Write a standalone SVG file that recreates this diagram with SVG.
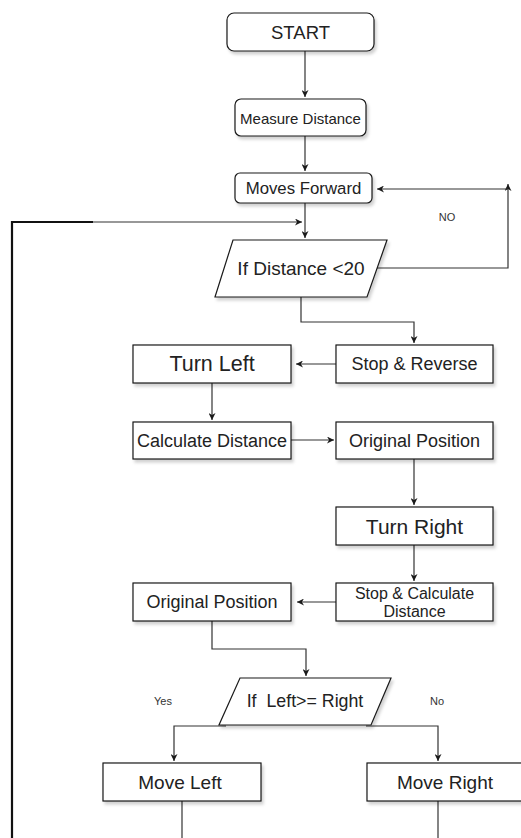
<svg xmlns="http://www.w3.org/2000/svg" width="521" height="838" viewBox="0 0 521 838">
<defs>
<filter id="sh" x="-10%" y="-10%" width="130%" height="140%">
<feDropShadow dx="2" dy="3" stdDeviation="1.5" flood-color="#000" flood-opacity="0.18"/>
</filter>
<marker id="ah" viewBox="0 0 10 10" refX="10" refY="5" markerWidth="7" markerHeight="7" markerUnits="userSpaceOnUse" orient="auto">
<path d="M0,0 L10,5 L0,10 L3,5 Z" fill="#1a1a1a"/>
</marker>
</defs>
<style>
.box{fill:#fff;stroke:#1a1a1a;stroke-width:1.2;filter:url(#sh)}
.t{font-family:"Liberation Sans",Arial,sans-serif;fill:#222;text-anchor:middle;dominant-baseline:central}
.c{fill:none;stroke:#333;stroke-width:1.2}
.lbl{font-family:"Liberation Sans",Arial,sans-serif;fill:#333;font-size:11px;text-anchor:middle;dominant-baseline:central}
</style>
<rect width="521" height="838" fill="#fff"/>
<g id="connectors">
<path class="c" d="M305,51 V97" marker-end="url(#ah)"/>
<path class="c" d="M305,136 V171" marker-end="url(#ah)"/>
<path class="c" d="M305,203 V238" marker-end="url(#ah)"/>
<path d="M12,838 V222 H93" fill="none" stroke="#111" stroke-width="2.2"/>
<path class="c" d="M93,222 H302" marker-end="url(#ah)"/>
<path class="c" d="M376,268 H508 V184" marker-end="url(#ah)"/>
<path class="c" d="M508,189 H377" marker-end="url(#ah)"/>
<path class="c" d="M301,297 V322 H414 V343" marker-end="url(#ah)"/>
<path class="c" d="M336,364 H296" marker-end="url(#ah)"/>
<path class="c" d="M212,383 V420" marker-end="url(#ah)"/>
<path class="c" d="M291,440 H334" marker-end="url(#ah)"/>
<path class="c" d="M414,459 V505" marker-end="url(#ah)"/>
<path class="c" d="M414,545 V581" marker-end="url(#ah)"/>
<path class="c" d="M336,602 H297" marker-end="url(#ah)"/>
<path class="c" d="M212,621 V649 H306 V676" marker-end="url(#ah)"/>
<path class="c" d="M226,726 H174 V761" marker-end="url(#ah)"/>
<path class="c" d="M366,726 H438 V761" marker-end="url(#ah)"/>
<path class="c" d="M182,801 V838"/>
<path class="c" d="M438,801 V838"/>
</g>
<g id="start"><rect class="box" x="227" y="13" width="147" height="38" rx="7"/><text class="t" x="300.5" y="32" font-size="18.5">START</text></g>
<g id="measure"><rect class="box" x="235" y="99" width="131" height="37" rx="6"/><text class="t" x="300.5" y="118" font-size="15">Measure Distance</text></g>
<g id="forward"><rect class="box" x="235" y="173" width="137" height="30" rx="5"/><text class="t" x="303.5" y="188" font-size="16.8">Moves Forward</text></g>
<g id="ifdist"><polygon class="box" points="233,240 387,240 367,297 215,297"/><text class="t" x="301" y="268" font-size="19">If Distance &lt;20</text></g>
<g id="stoprev"><rect class="box" x="336" y="345" width="157" height="38"/><text class="t" x="414.5" y="364" font-size="18">Stop &amp; Reverse</text></g>
<g id="turnleft"><rect class="box" x="133" y="345" width="158" height="38"/><text class="t" x="212" y="364" font-size="21.5">Turn Left</text></g>
<g id="calc"><rect class="box" x="133" y="422" width="158" height="37"/><text class="t" x="212" y="440.5" font-size="18">Calculate Distance</text></g>
<g id="orig1"><rect class="box" x="336" y="422" width="157" height="37"/><text class="t" x="414.5" y="440.5" font-size="18">Original Position</text></g>
<g id="turnright"><rect class="box" x="336" y="507" width="157" height="38"/><text class="t" x="414.5" y="526" font-size="21">Turn Right</text></g>
<g id="stopcalc"><rect class="box" x="336" y="583" width="157" height="38"/><text class="t" x="414.5" y="593" font-size="16">Stop &amp; Calculate</text><text class="t" x="414.5" y="611.5" font-size="16">Distance</text></g>
<g id="orig2"><rect class="box" x="133" y="583" width="158" height="38"/><text class="t" x="212" y="602" font-size="18">Original Position</text></g>
<g id="ifleft"><polygon class="box" points="240,678 391,678 371,725 219,725"/><text class="t" x="305" y="701" font-size="17.8" xml:space="preserve">If  Left&gt;= Right</text></g>
<g id="moveleft"><rect class="box" x="103" y="763" width="158" height="38"/><text class="t" x="180" y="782" font-size="19">Move Left</text></g>
<g id="moveright"><rect class="box" x="367" y="763" width="158" height="38"/><text class="t" x="445" y="782" font-size="19">Move Right</text></g>
<g id="labels">
<text class="lbl" x="447" y="217">NO</text>
<text class="lbl" x="163" y="701">Yes</text>
<text class="lbl" x="437" y="701">No</text>
</g>
</svg>
